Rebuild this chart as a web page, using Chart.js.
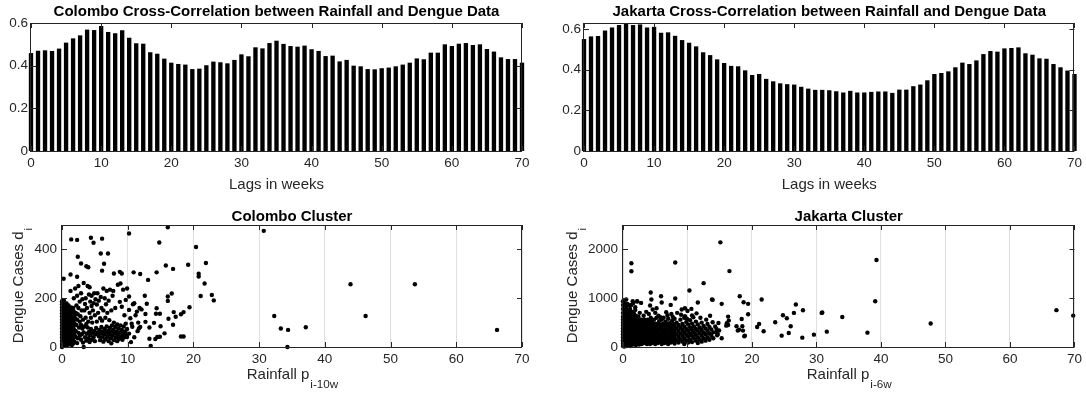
<!DOCTYPE html>
<html>
<head>
<meta charset="utf-8">
<title>Rainfall and Dengue cross-correlation</title>
<script src="https://cdn.jsdelivr.net/npm/chart.js"></script>
<style>
  body { margin: 0; background: #fff; }
  #wrap { position: relative; width: 1086px; height: 398px; }
  #wrap canvas { position: absolute; }
</style>
</head>
<body>
<div id="wrap">
  <canvas id="colomboCorrChart" width="543" height="199" style="left:0;top:0"></canvas>
  <canvas id="jakartaCorrChart" width="543" height="199" style="left:543px;top:0"></canvas>
  <canvas id="colomboClusterChart" width="543" height="199" style="left:0;top:199px"></canvas>
  <canvas id="jakartaClusterChart" width="543" height="199" style="left:543px;top:199px"></canvas>
</div>

<script>
// lags in weeks
const lags = [0,1,2,3,4,5,6,7,8,9,10,11,12,13,14,15,16,17,18,19,20,21,22,23,24,25,26,27,28,29,30,
  31,32,33,34,35,36,37,38,39,40,41,42,43,44,45,46,47,48,49,50,51,52,53,54,55,56,57,58,59,60,
  61,62,63,64,65,66,67,68,69,70];

const colomboCorr = [0.459,0.470,0.472,0.469,0.480,0.508,0.528,0.542,0.569,0.567,
  0.586,0.558,0.552,0.566,0.531,0.505,0.503,0.463,0.456,0.433,
  0.414,0.408,0.405,0.384,0.386,0.402,0.419,0.416,0.411,0.427,
  0.453,0.444,0.486,0.481,0.506,0.517,0.502,0.492,0.489,0.494,
  0.477,0.469,0.445,0.447,0.420,0.427,0.400,0.397,0.384,0.383,
  0.388,0.391,0.397,0.405,0.414,0.434,0.430,0.461,0.461,0.500,
  0.492,0.503,0.506,0.497,0.500,0.478,0.466,0.439,0.431,0.431,0.414];

const jakartaCorr = [0.551,0.564,0.566,0.593,0.608,0.620,0.628,0.620,0.623,0.608,
  0.611,0.582,0.584,0.567,0.546,0.533,0.515,0.486,0.472,0.451,
  0.433,0.419,0.417,0.397,0.374,0.379,0.355,0.343,0.333,0.329,
  0.327,0.316,0.307,0.301,0.301,0.299,0.294,0.288,0.296,0.288,
  0.288,0.291,0.293,0.293,0.286,0.302,0.302,0.319,0.327,0.348,
  0.379,0.384,0.392,0.412,0.435,0.428,0.446,0.477,0.492,0.489,
  0.505,0.507,0.510,0.481,0.474,0.456,0.454,0.428,0.412,0.396,0.379];

const lagTicks = [0,10,20,30,40,50,60,70];
const corrTicks = [0,0.2,0.4,0.6];
const rainTicks = [0,10,20,30,40,50,60,70];
const colomboCaseTicks = [0,200,400];
const jakartaCaseTicks = [0,1000,2000];

// [rainfall, dengue cases]
const colomboCluster = [
  [1.4,441],[2.3,439],[4.4,448],[4.8,427],[6.1,444],[10.2,465],[16.1,491],[14.8,428],[2.4,370],[2.9,342],
  [3.7,331],[4.0,327],[5.9,383],[7.0,383],[6.4,341],[6.1,313],[0.25,280],[1.3,297],[2.3,288],[8.8,308],
  [9.1,301],[7.9,301],[10.9,306],[11.9,299],[13.1,275],[14.4,306],[15.8,334],[16.9,320],[19.2,337],[20.4,410],
  [20.8,300],[20.8,289],[21.9,344],[21.7,260],[22.8,213],[23.1,191],[21.1,209],[16.7,219],[16.1,207],[16.1,189],
  [16.2,116],[16.9,91],[17.0,143],[17.3,124],[18.1,134],[18.5,143],[19.4,163],[18.1,43],[18.5,43],[15.6,56],
  [14.5,41],[14.9,42],[14.2,33],[13.3,34],[13.5,4],[15.0,85],[14.0,99],[12.7,103],[13.3,80],[11.9,82],
  [14.4,159],[14.3,136],[14.9,136],[12.7,135],[12.1,154],[12.9,177],[12.6,210],[11.4,145],[11.0,179],[10.2,207],
  [10.2,152],[9.7,193],[10.7,83],[11.7,76],[9.9,41],[9.5,48],
  [30.7,476],[32.3,127],[33.3,76],[34.4,70],[34.3,0],[37.1,81],[43.9,257],[46.2,127],[53.7,257],[66.2,70],
  [0,0],[0,12],[0,25],[0,38],[0,50],[0,62],[0,75],[0,88],[0,100],[0,112],[0,125],[0,138],[0,150],[0,162],[0,175],[0,188],
  [0.1,6],[0.1,30],[0.1,55],[0.1,80],[0.1,105],[0.1,130],[0.1,155],[0.1,180],
  [0.2,18],[0.2,44],[0.2,68],[0.2,94],[0.2,118],[0.2,142],[0.2,168],
  [0.3,8],[0.3,34],[0.3,58],[0.3,84],[0.3,110],[0.3,136],[0.3,160],[0.3,190],
  [0.4,22],[0.4,48],[0.4,72],[0.4,98],[0.4,124],[0.4,148],[0.4,172],
  [0.5,12],[0.5,38],[0.5,62],[0.5,88],[0.5,114],[0.5,140],[0.5,165],
  [0.6,28],[0.6,52],[0.6,78],[0.6,104],[0.6,130],[0.6,156],
  [0.7,5],[0.7,42],[0.7,66],[0.7,92],[0.7,120],[0.7,146],[0.7,178],
  [0.8,20],[0.8,58],[0.8,84],[0.8,110],[0.8,136],[0.8,162],
  [0.9,34],[0.9,70],[0.9,98],[0.9,126],[0.9,152],
  [1.0,10],[1.0,46],[1.0,80],[1.0,116],[1.0,142],[1.0,170],
  [1.1,28],[1.1,62],[1.1,94],[1.1,132],[1.1,158],
  [1.2,14],[1.2,50],[1.2,86],[1.2,120],[1.2,150],
  [1.3,36],[1.3,70],[1.3,104],[1.3,140],[1.3,230],
  [1.4,22],[1.4,58],[1.4,92],[1.4,128],[1.4,162],
  [1.5,8],[1.5,44],[1.5,78],[1.5,112],[1.5,150],
  [1.6,30],[1.6,66],[1.6,100],[1.6,138],
  [1.7,14],[1.7,52],[1.7,88],[1.7,124],[1.7,160],
  [1.8,38],[1.8,74],[1.8,110],[1.8,146],[1.8,200],
  [1.9,22],[1.9,60],[1.9,96],[1.9,132],
  [2.0,44],[2.0,118],[2.0,240],[2.1,66],[2.1,140],[2.2,90],[2.2,170],[2.3,16],[2.3,112],[2.3,210],
  [2.4,36],[2.4,134],[2.5,58],[2.5,160],[2.5,250],[2.6,80],[2.7,46],[2.7,104],[2.7,186],[2.8,126],
  [2.9,30],[2.9,90],[2.9,220],
  [3.0,52],[3.0,150],[3.1,76],[3.1,196],[3.2,18],[3.2,112],[3.3,0],[3.3,60],[3.3,262],[3.4,84],
  [3.4,150],[3.5,40],[3.5,176],[3.6,120],[3.6,200],[3.7,26],[3.7,94],[3.8,54],[3.8,160],[3.9,80],
  [3.9,250],[4.0,36],[4.0,104],[4.1,62],[4.1,215],[4.2,20],[4.2,140],[4.2,245],[4.3,48],[4.3,186],
  [4.4,74],[4.4,120],[4.5,30],[4.5,168],[4.5,210],[4.6,58],[4.6,100],[4.7,150],[4.8,40],[4.8,180],
  [4.9,66],[4.9,220],
  [5.0,24],[5.0,130],[5.1,52],[5.1,196],[5.2,78],[5.3,104],[5.3,174],[5.4,60],[5.4,220],[5.5,140],
  [5.6,44],[5.6,190],[5.7,70],[5.8,28],[5.8,118],[5.9,56],[5.9,205],[6.0,82],[6.0,160],[6.1,40],
  [6.1,108],[6.2,64],[6.3,22],[6.3,150],[6.3,240],[6.4,50],[6.5,74],[6.5,200],[6.6,32],[6.6,120],
  [6.7,58],[6.7,175],[6.8,84],[6.8,230],[6.9,42],[6.9,140],
  [7.0,66],[7.1,24],[7.1,190],[7.2,52],[7.2,110],[7.3,78],[7.3,235],[7.4,36],[7.5,62],[7.5,150],
  [7.5,15],[7.6,88],[7.7,46],[7.7,210],[7.8,70],[7.8,230],[7.9,28],[7.9,100],[8.0,56],[8.1,82],
  [8.1,160],[8.2,40],[8.3,64],[8.4,92],[8.4,24],[8.5,50],[8.5,255],[8.6,76],[8.7,34],[8.8,60],
  [8.8,185],[8.9,88],[8.9,260],[9.0,44],[9.1,70],[9.1,165],[9.2,30],[9.3,54],[9.3,235],[9.4,84],
  [9.5,40],[9.5,130],[9.6,64],[9.7,96],[9.8,48],[9.9,74],[9.9,240],
  [10.2,55],[10.4,118],[10.6,95],[10.8,175],[11.0,40],[11.2,130],[11.5,65],[11.8,160],[11.6,100],[10.5,20]
];

const jakartaCluster = [
  [1.3,1552],[1.3,1717],[8.1,1731],[15.1,2144],[16.5,1555],[13.9,966],[15.3,884],[18.1,1041],[18.7,918],[19.4,884],
  [19.4,671],[21.5,973],[26.8,870],[27.9,753],[26.5,699],[25.4,589],[24.8,651],[26.0,425],[25.7,288],[24.6,233],
  [27.8,192],[29.6,253],[30.8,699],[23.6,507],[21.8,322],[21.1,473],[20.8,411],[18.4,575],[18.5,425],[16.0,438],
  [16.3,623],[16.4,541],[16.1,486],[16.3,452],[15.3,178],[17.6,425],[18.0,356],[17.8,336],[18.6,336],[18.9,233],
  [18.8,219],[13.9,507],[14.8,493],[14.5,370],[14.5,301],[14.7,267],
  [30.9,706],[31.6,315],[34.0,615],[37.9,294],[39.1,937],[39.3,1783],[47.7,483],[67.2,755],[69.8,643],
  [4.3,1116],[4.4,973],[5.9,1041],[6.0,911],[7.4,863],[8.1,993],[10.3,1158],[12.5,1308],[13.8,973],[11.6,911],
  [9.6,795],[9.1,767],[10.0,740],[10.6,781],[10.7,644],[9.6,630],[0.5,973],[1.5,938],[2.2,931],[2.8,904],
  [0.5,767],[1.0,849],[1.9,815],[4.2,849],[4.6,767],[5.2,795],[6.7,712],[7.5,678],[4.0,678],[5.8,610],
  [3.2,640],[3.6,720],[4.4,560],[5.0,700],[5.5,640],[6.3,600],[6.9,650],[7.7,620],[8.4,700],[9.0,660],
  [9.9,580],[10.9,610],[11.4,690],[12.0,600],[12.9,560],[13.5,640],
  [0,20],[0,80],[0,140],[0,200],[0,260],[0,320],[0,380],[0,440],[0,500],[0,560],[0,620],[0,700],[0,780],[0,860],[0,940],
  [0.1,50],[0.1,110],[0.1,170],[0.1,230],[0.1,290],[0.1,350],[0.1,410],[0.1,470],[0.1,540],[0.1,600],[0.1,680],
  [0.2,10],[0.2,90],[0.2,150],[0.2,210],[0.2,270],[0.2,330],[0.2,400],[0.2,460],[0.2,520],[0.2,590],[0.2,760],
  [0.3,60],[0.3,120],[0.3,180],[0.3,250],[0.3,310],[0.3,370],[0.3,430],[0.3,490],[0.3,650],[0.3,900],
  [0.4,30],[0.4,100],[0.4,160],[0.4,220],[0.4,290],[0.4,350],[0.4,420],[0.4,480],[0.4,560],[0.4,720],
  [0.5,70],[0.5,130],[0.5,200],[0.5,260],[0.5,330],[0.5,390],[0.5,450],[0.5,620],[0.5,830],
  [0.6,20],[0.6,100],[0.6,170],[0.6,240],[0.6,300],[0.6,370],[0.6,430],[0.6,520],[0.6,690],
  [0.7,60],[0.7,140],[0.7,210],[0.7,280],[0.7,340],[0.7,410],[0.7,480],[0.7,600],[0.7,880],
  [0.8,30],[0.8,110],[0.8,180],[0.8,250],[0.8,320],[0.8,390],[0.8,460],[0.8,560],[0.8,740],
  [0.9,80],[0.9,150],[0.9,220],[0.9,290],[0.9,360],[0.9,440],[0.9,520],[0.9,650],
  [1.0,40],[1.0,120],[1.0,190],[1.0,260],[1.0,330],[1.0,400],[1.0,480],[1.0,590],[1.0,700],
  [1.1,90],[1.1,160],[1.1,230],[1.1,300],[1.1,370],[1.1,450],[1.1,540],[1.1,780],
  [1.2,20],[1.2,130],[1.2,200],[1.2,270],[1.2,340],[1.2,420],[1.2,500],[1.2,640],
  [1.3,70],[1.3,170],[1.3,240],[1.3,310],[1.3,390],[1.3,470],[1.3,580],[1.3,860],
  [1.4,110],[1.4,210],[1.4,280],[1.4,360],[1.4,440],[1.4,530],[1.4,720],
  [1.5,50],[1.5,150],[1.5,250],[1.5,330],[1.5,410],[1.5,500],[1.5,620],
  [1.6,90],[1.6,190],[1.6,290],[1.6,380],[1.6,470],[1.6,560],[1.6,900],
  [1.7,130],[1.7,230],[1.7,320],[1.7,420],[1.7,680],
  [1.8,60],[1.8,170],[1.8,270],[1.8,360],[1.8,460],[1.8,590],
  [1.9,110],[1.9,210],[1.9,310],[1.9,400],[1.9,520],[1.9,760],
  [2.0,40],[2.0,150],[2.0,250],[2.0,350],[2.0,440],[2.0,640],
  [2.1,90],[2.1,190],[2.1,290],[2.1,390],[2.1,500],
  [2.2,130],[2.2,230],[2.2,330],[2.2,430],[2.2,560],[2.2,940],
  [2.3,70],[2.3,170],[2.3,270],[2.3,370],[2.3,470],
  [2.4,110],[2.4,210],[2.4,310],[2.4,410],[2.4,620],
  [2.5,50],[2.5,150],[2.5,250],[2.5,350],[2.5,520],
  [2.6,190],[2.6,290],[2.6,400],[2.6,700],
  [2.7,90],[2.7,230],[2.7,330],[2.7,460],
  [2.8,140],[2.8,270],[2.8,380],[2.8,560],
  [2.9,60],[2.9,200],[2.9,310],[2.9,430],
  [3.0,120],[3.0,250],[3.0,360],[3.0,500],
  [3.1,170],[3.1,290],[3.1,410],
  [3.2,80],[3.2,220],[3.2,340],[3.2,470],
  [3.3,140],[3.3,270],[3.3,390],[3.3,560],
  [3.4,190],[3.4,310],[3.4,440],
  [3.5,100],[3.5,240],[3.5,360],[3.5,500],
  [3.6,160],[3.6,290],[3.6,420],
  [3.7,60],[3.7,210],[3.7,340],[3.7,470],
  [3.8,130],[3.8,260],[3.8,390],[3.8,560],
  [3.9,180],[3.9,310],[3.9,440],
  [4.0,90],[4.0,230],[4.0,360],[4.0,520],
  [4.1,150],[4.1,280],[4.1,410],
  [4.2,60],[4.2,200],[4.2,330],[4.2,470],
  [4.3,120],[4.3,250],[4.3,380],[4.3,600],
  [4.4,170],[4.4,300],[4.4,440],
  [4.5,80],[4.5,220],[4.5,350],[4.5,520],
  [4.6,140],[4.6,270],[4.6,400],
  [4.7,190],[4.7,320],[4.7,460],
  [4.8,100],[4.8,240],[4.8,370],[4.8,560],
  [4.9,160],[4.9,290],[4.9,420],
  [5.0,60],[5.0,210],[5.0,340],[5.0,480],
  [5.2,130],[5.2,270],[5.2,400],[5.2,600],
  [5.4,80],[5.4,190],[5.4,320],[5.4,460],
  [5.6,150],[5.6,250],[5.6,380],[5.6,530],
  [5.8,100],[5.8,220],[5.8,340],[5.8,450],
  [6.0,60],[6.0,170],[6.0,290],[6.0,410],[6.0,560],
  [6.2,120],[6.2,240],[6.2,360],[6.2,480],
  [6.4,80],[6.4,200],[6.4,320],[6.4,440],
  [6.6,150],[6.6,270],[6.6,390],[6.6,520],
  [6.8,100],[6.8,220],[6.8,340],[6.8,470],
  [7.0,60],[7.0,180],[7.0,300],[7.0,420],[7.0,580],
  [7.2,130],[7.2,250],[7.2,370],[7.2,490],
  [7.4,90],[7.4,210],[7.4,330],[7.4,450],
  [7.6,160],[7.6,280],[7.6,400],[7.6,540],
  [7.8,110],[7.8,230],[7.8,350],[7.8,470],
  [8.0,70],[8.0,190],[8.0,310],[8.0,430],[8.0,580],
  [8.3,140],[8.3,260],[8.3,380],[8.3,500],
  [8.6,90],[8.6,210],[8.6,330],[8.6,450],
  [8.9,160],[8.9,280],[8.9,400],[8.9,560],
  [9.2,110],[9.2,230],[9.2,350],[9.2,470],
  [9.5,60],[9.5,180],[9.5,300],[9.5,420],[9.5,600],
  [9.8,130],[9.8,250],[9.8,370],[9.8,510],
  [10.1,90],[10.1,210],[10.1,330],[10.1,460],
  [10.4,150],[10.4,270],[10.4,400],[10.4,550],
  [10.7,100],[10.7,230],[10.7,350],[10.7,480],
  [11.0,180],[11.0,300],[11.0,420],
  [11.3,130],[11.3,250],[11.3,370],[11.3,520],
  [11.6,80],[11.6,200],[11.6,330],[11.6,460],
  [11.9,150],[11.9,280],[11.9,400],
  [12.2,110],[12.2,230],[12.2,350],[12.2,500],
  [12.5,180],[12.5,300],[12.5,430],
  [12.8,130],[12.8,260],[12.8,380],
  [13.1,200],[13.1,330],[13.1,470],
  [13.4,150],[13.4,280],[13.4,410],
  [13.7,230],[13.7,360],[14.0,180],[14.0,300],[14.3,420],[14.6,240],[14.9,340]
];

const FONT = '"Liberation Sans", Arial, Helvetica, sans-serif';
const INK = '#262626';
const W = 543, H = 199;
Chart.defaults.font.family = FONT;
Chart.defaults.color = INK;

// text with an optional subscript, centred at (x, y) baseline
function drawText(ctx, text, sub, x, y, size, rotated) {
  ctx.save();
  ctx.translate(x, y);
  if (rotated) ctx.rotate(-Math.PI / 2);
  ctx.textAlign = 'left';
  ctx.textBaseline = 'alphabetic';
  const subFont = (size * 0.78) + 'px ' + FONT;
  ctx.font = size + 'px ' + FONT;
  const w1 = ctx.measureText(text).width;
  let w2 = 0;
  if (sub) {
    ctx.font = subFont;
    w2 = ctx.measureText(sub).width;
  }
  const x0 = -(w1 + w2) / 2;
  ctx.font = size + 'px ' + FONT;
  ctx.fillText(text, x0, 0);
  if (sub) {
    ctx.font = subFont;
    ctx.fillText(sub, x0 + w1 + 1, size * 0.6);
  }
  ctx.restore();
}

// MATLAB style box, inward ticks, title and axis labels
const panelPlugin = {
  id: 'panel',
  afterDatasetsDraw(chart, args, o) {
    const {ctx, chartArea: a, scales} = chart;
    ctx.save();
    ctx.strokeStyle = INK;
    ctx.lineWidth = 1;
    ctx.beginPath();
    scales.x.ticks.forEach(t => {
      const px = Math.round(scales.x.getPixelForValue(t.value)) + 0.5;
      ctx.moveTo(px, a.bottom); ctx.lineTo(px, a.bottom - 5);
      ctx.moveTo(px, a.top); ctx.lineTo(px, a.top + 5);
    });
    scales.y.ticks.forEach(t => {
      const py = Math.round(scales.y.getPixelForValue(t.value)) + 0.5;
      ctx.moveTo(a.left, py); ctx.lineTo(a.left + 5, py);
      ctx.moveTo(a.right, py); ctx.lineTo(a.right - 5, py);
    });
    ctx.stroke();
    ctx.strokeRect(Math.round(a.left) - 0.5, Math.round(a.top) + 0.5,
      Math.round(a.right - a.left), Math.round(a.bottom - a.top));

    const cx = (a.left + a.right) / 2;
    ctx.fillStyle = '#000';
    ctx.font = 'bold 15px ' + FONT;
    ctx.textAlign = 'center';
    ctx.textBaseline = 'alphabetic';
    ctx.fillText(o.title, cx, o.titleY);

    ctx.fillStyle = INK;
    drawText(ctx, o.xLabel, o.xSub, cx, o.xLabelY, 15, false);
    if (o.yLabel) drawText(ctx, o.yLabel, o.ySub, o.yLabelX, (a.top + a.bottom) / 2, 15, true);
    ctx.restore();
  }
};

function scalesFor(area, xTicks, yTicks, yMax, xGrid, fmt, yPad) {
  return {
    x: {
      type: 'linear', min: 0, max: 70, offset: false,
      grid: {display: xGrid, drawTicks: false, color: '#dfdfdf', lineWidth: 1},
      border: {display: false},
      ticks: {padding: 4, font: {size: 13.5}, maxRotation: 0, autoSkip: false, callback: v => String(v)},
      afterBuildTicks: s => { s.ticks = xTicks.map(v => ({value: v})); },
      afterFit: s => { s.height = H - area.bottom; }
    },
    y: {
      min: 0, max: yMax,
      grid: {display: false, drawTicks: false},
      border: {display: false},
      ticks: {padding: yPad, font: {size: 13.5}, callback: fmt},
      afterBuildTicks: s => { s.ticks = yTicks.map(v => ({value: v})); },
      afterFit: s => { s.width = area.left; }
    }
  };
}

function baseOptions(area, panel, scales) {
  return {
    responsive: false,
    animation: false,
    events: [],
    layout: {padding: {left: 0, right: W - area.right, top: area.top, bottom: 0}},
    plugins: {legend: {display: false}, tooltip: {enabled: false}, panel: panel},
    scales: scales
  };
}

const corrFmt = v => String(Math.round(v * 10) / 10);
const caseFmt = v => String(v);

function corrChart(id, name, values, area, yMax) {
  new Chart(document.getElementById(id), {
    type: 'bar',
    data: {
      datasets: [{
        data: lags.map((l, i) => ({x: l, y: values[i]})),
        backgroundColor: '#000',
        borderWidth: 0,
        barPercentage: 0.62,
        categoryPercentage: 1,
        clip: false
      }]
    },
    options: baseOptions(area,
      {title: name + ' Cross-Correlation between Rainfall and Dengue Data', titleY: 15.5,
       xLabel: 'Lags in weeks', xSub: '', xLabelY: 189},
      scalesFor(area, lagTicks, corrTicks, yMax, false, corrFmt, 3)),
    plugins: [panelPlugin]
  });
}

function clusterChart(id, name, points, area, yTicks, yMax, sub, yLabelX) {
  new Chart(document.getElementById(id), {
    type: 'scatter',
    data: {
      datasets: [{
        data: points.map(p => ({x: p[0], y: p[1]})),
        backgroundColor: '#000',
        borderWidth: 0,
        pointRadius: 2.2,
        clip: false
      }]
    },
    options: baseOptions(area,
      {title: name + ' Cluster', titleY: 21.5,
       xLabel: 'Rainfall p', xSub: sub, xLabelY: 180,
       yLabel: 'Dengue Cases d', ySub: 'i', yLabelX: yLabelX},
      scalesFor(area, rainTicks, yTicks, yMax, true, caseFmt, 5)),
    plugins: [panelPlugin]
  });
}

corrChart('colomboCorrChart', 'Colombo', colomboCorr, {left: 31, right: 522, top: 23, bottom: 151}, 0.6);
corrChart('jakartaCorrChart', 'Jakarta', jakartaCorr, {left: 41, right: 533, top: 23, bottom: 151}, 0.63);
clusterChart('colomboClusterChart', 'Colombo', colomboCluster, {left: 62, right: 522, top: 26, bottom: 148},
  colomboCaseTicks, 500, 'i-10w', 22.5);
clusterChart('jakartaClusterChart', 'Jakarta', jakartaCluster, {left: 80, right: 533, top: 26, bottom: 148},
  jakartaCaseTicks, 2500, 'i-6w', 34);
</script>
</body>
</html>
